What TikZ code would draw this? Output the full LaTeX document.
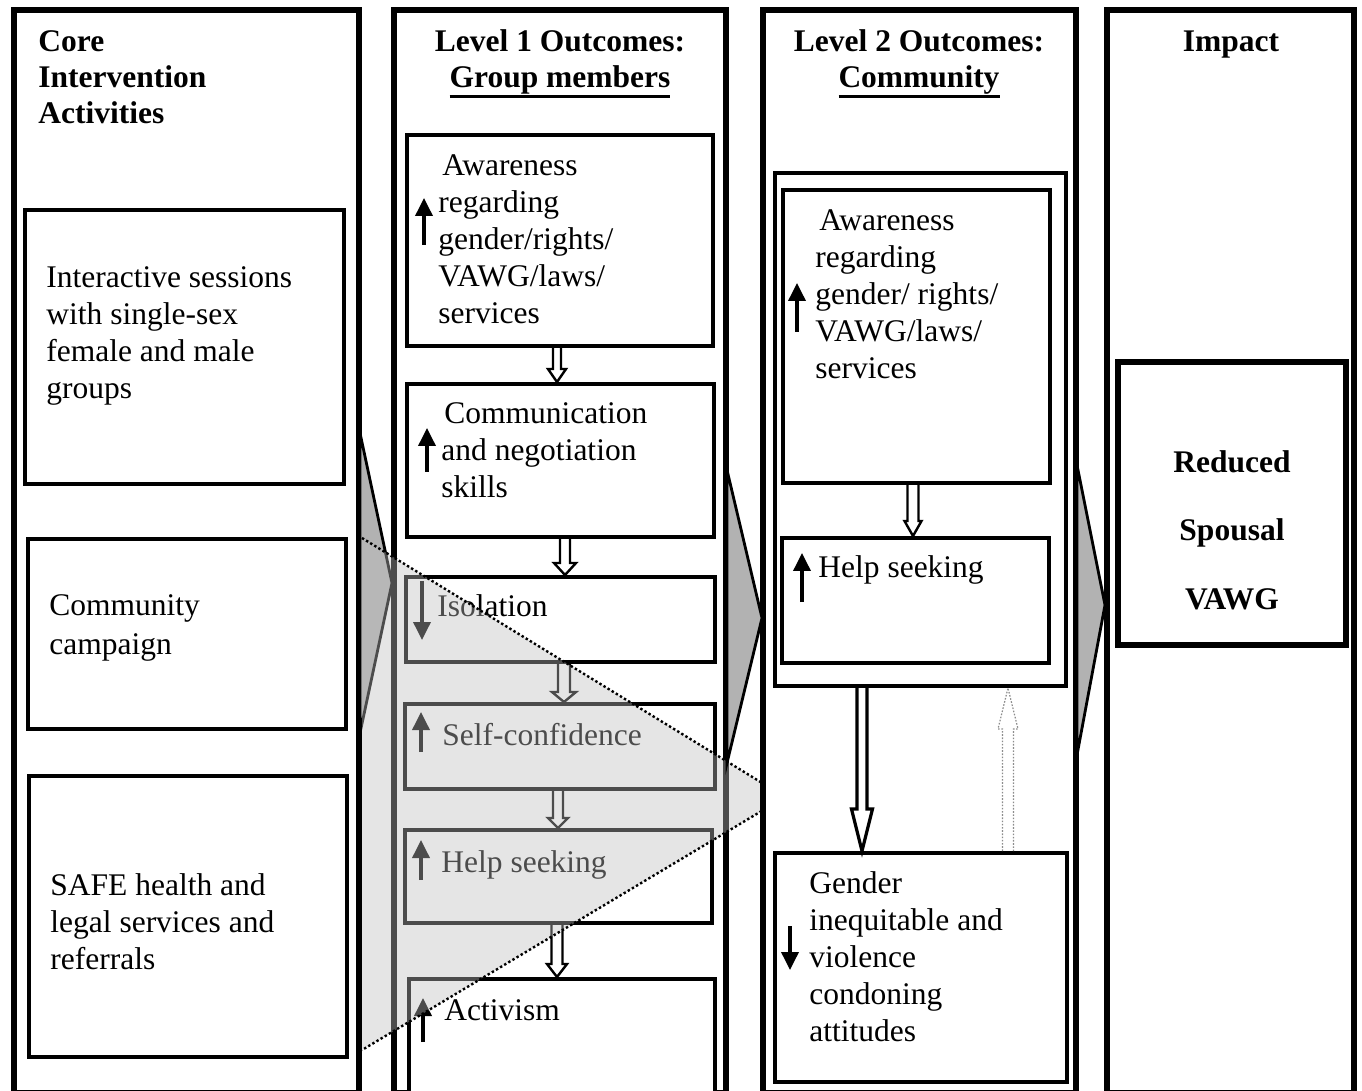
\documentclass[tikz,border=0pt]{standalone}
\usepackage{fontspec}
\setmainfont{Liberation Serif}
\usetikzlibrary{arrows.meta,fit,calc}

\newcommand{\thickul}[1]{\setbox0\hbox{#1}\leavevmode\rlap{\rule[-5pt]{\wd0}{1.6pt}}\box0}
% open block arrow between two boxes (vertical)
\newcommand{\hollowarrow}[6][]{%
  \draw[hollow,#1] let \p1=(#2), \p2=(#3) in
    ({\x1-#4},\y1) -- ({\x1-#4},{\y2+#6}) -- ({\x1-#5},{\y2+#6}) -- (\x1,\y2)
    -- ({\x1+#5},{\y2+#6}) -- ({\x1+#4},{\y2+#6}) -- ({\x1+#4},\y1);}

\tikzset{
  column/.style={draw, line width=3.2pt, fill=white, inner sep=0pt},
  box/.style={draw, line width=2pt, fill=white, inner sep=0pt},
  txt/.style={anchor=base west, align=left, inner sep=0pt, font=\fontsize{15.75}{18.5}\selectfont},
  headtxt/.style={anchor=base, align=center, inner sep=0pt, font=\fontsize{15.75}{18}\selectfont\bfseries},
  trend/.style={line width=1.8pt, -{Triangle[width=8.5pt,length=9pt]}},
  hollow/.style={draw, line width=1.2pt},
  chevron/.style={draw, line width=1.4pt, fill=black!30, line join=miter},
  greyveil/.style={fill=black!25, fill opacity=0.4},
  dotline/.style={line width=1.2pt, dash pattern=on 1.2pt off 1.2pt},
  dotarrow/.style={draw=black!45, line width=0.6pt, dash pattern=on 0.8pt off 0.8pt},
}

\begin{document}
\begin{tikzpicture}[x=0.5pt,y=-0.5pt]
\useasboundingbox (0,0) rectangle (1362,1091);
% text nodes sit on the baseline of their last line

% activities
\node[column, fit={(14,10) (359,1093)}] (col1) {};
\node[headtxt, anchor=base west, align=left] (core) at (38,124) {Core\\Intervention\\Activities};
\node[box, fit={(25,210) (344,484)}] (inter) {};
\node[txt] (interT) at (46,399) {Interactive sessions\\with single-sex\\female and male\\groups};
\node[box, fit={(28,539) (346,729)}] (camp) {};
\node[txt] (campT) at (49,654) {Community\\[1pt]campaign};
\node[box, fit={(29,776) (347,1057)}] (safe) {};
\node[txt] (safeT) at (50,969) {SAFE health and\\legal services and\\referrals};

% level 1
\node[column, fit={(394,10) (726,1093)}] (col2) {};
\node[headtxt] (lvl1) at (560,88) {Level 1 Outcomes:\\\thickul{Group members}};
\node[box, fit={(407,135) (713,346)}] (aw1) {};
\node[txt] (aw1T) at (438,324) {\hspace*{2pt}Awareness\\regarding\\gender/rights/\\VAWG/laws/\\services};
\draw[trend] (424,245) -- (424,198);
\node[box, fit={(407,384) (714,537)}] (com1) {};
\node[txt] (com1T) at (441,498) {\hspace*{1.5pt}Communication\\and negotiation\\skills};
\draw[trend] (427,472) -- (427,428);
\node[box, fit={(406,577) (715,662)}] (iso) {};
\node[txt] (isoT) at (437,617) {Isolation};
\draw[trend] (422,581) -- (422,640);
\node[box, fit={(405,704) (715,789)}] (conf) {};
\node[txt] (confT) at (442,745) {Self-confidence};
\draw[trend] (421,752) -- (421,712);
\node[box, fit={(405,830) (712,923)}] (help1) {};
\node[txt] (help1T) at (441,872) {Help seeking};
\draw[trend] (421,880) -- (421,840);
\node[box, fit={(409,979) (715,1100)}] (act) {};
\node[txt] (actT) at (444,1020) {Activism};
\draw[trend] (423,1042) -- (423,998);
\hollowarrow{[xshift=-1.5pt]aw1.south}{com1.north}{2pt}{4.5pt}{6.5pt}
\hollowarrow{[xshift=2.25pt]com1.south}{iso.north}{2.5pt}{5.5pt}{6pt}
\hollowarrow{[xshift=1.75pt]iso.south}{conf.north}{3pt}{6pt}{5pt}
\hollowarrow{[xshift=-1pt]conf.south}{help1.north}{2.5pt}{5pt}{5pt}
\hollowarrow{[xshift=-0.75pt]help1.south}{act.north}{2.75pt}{5pt}{6.5pt}

\draw[chevron] (360,433) -- (392,583) -- (360,733) -- cycle;

% shared pathway
\fill[greyveil] (362,538) -- (785,797) -- (362,1050) -- cycle;
\draw[dotline] (362,538) -- (785,797) -- (362,1050);

% level 2
\node[column, fit={(763,10) (1076,1093)}] (col3) {};
\node[headtxt] (lvl2) at (919,88) {Level 2 Outcomes:\\\thickul{Community}};
\node[box, fit={(775,173) (1066,686)}] (grp) {};
\node[box, fit={(783,190) (1050,483)}] (aw2) {};
\node[txt] (aw2T) at (815,379) {\hspace*{2pt}Awareness\\regarding\\gender/ rights/\\VAWG/laws/\\services};
\draw[trend] (797,332) -- (797,283);
\node[box, fit={(782,538) (1049,663)}] (help2) {};
\node[txt] (help2T) at (818,578) {Help seeking};
\draw[trend] (802,602) -- (802,553);
\node[box, fit={(775,853) (1067,1082)}] (gen) {};
\node[txt] (genT) at (809,1041) {Gender\\inequitable and\\violence\\condoning\\attitudes};
\draw[trend] (790,926) -- (790,970);
\hollowarrow{[xshift=-1.75pt]aw2.south}{help2.north}{2.75pt}{4.25pt}{7.5pt}
\hollowarrow[line width=1.6pt]{[xshift=-29.25pt]grp.south}{gen.north}{2.5pt}{5.25pt}{21pt}
\hollowarrow[dotarrow]{[xshift=43.5pt]gen.north}{grp.south}{2.75pt}{5pt}{-20.5pt}

\draw[chevron] (727,470) -- (762,618) -- (727,763) -- cycle;

% impact
\node[column, fit={(1107,10) (1354,1093)}] (col4) {};
\node[headtxt] (impact) at (1231,52) {Impact};
\node[box, line width=3pt, fit={(1118,362) (1346,645)}] (vawg) {};
\node[headtxt, font=\fontsize{15.75}{34.5}\selectfont\bfseries] (vawgT) at (1232,610) {Reduced\\Spousal\\VAWG};

\draw[chevron] (1077,465) -- (1105,605) -- (1077,755) -- cycle;
\end{tikzpicture}
\end{document}
